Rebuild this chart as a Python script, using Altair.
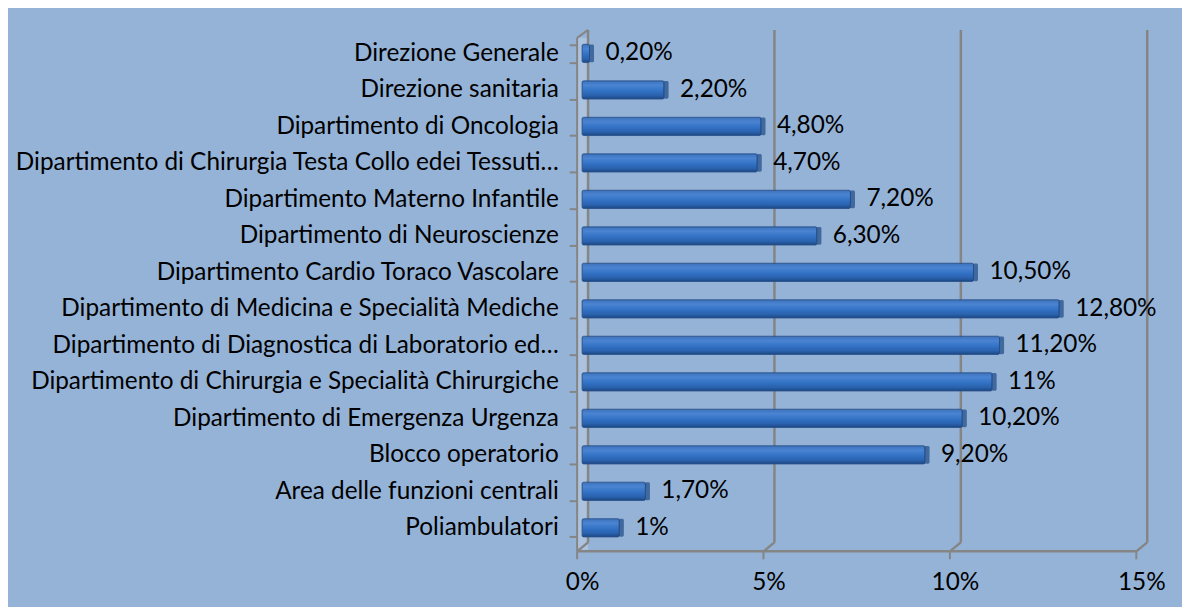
import altair as alt
import pandas as pd

# ---- data ----
categories = [
    "Direzione Generale",
    "Direzione sanitaria",
    "Dipartimento di Oncologia",
    "Dipartimento di Chirurgia Testa Collo edei Tessuti…",
    "Dipartimento Materno Infantile",
    "Dipartimento di Neuroscienze",
    "Dipartimento Cardio Toraco Vascolare",
    "Dipartimento di Medicina e Specialità Mediche",
    "Dipartimento di Diagnostica di Laboratorio ed…",
    "Dipartimento di Chirurgia e Specialità Chirurgiche",
    "Dipartimento di Emergenza Urgenza",
    "Blocco operatorio",
    "Area delle funzioni centrali",
    "Poliambulatori",
]
values = [0.2, 2.2, 4.8, 4.7, 7.2, 6.3, 10.5, 12.8, 11.2, 11, 10.2, 9.2, 1.7, 1]
value_labels = ["0,20%", "2,20%", "4,80%", "4,70%", "7,20%", "6,30%", "10,50%",
                "12,80%", "11,20%", "11%", "10,20%", "9,20%", "1,70%", "1%"]
tick_values = [0, 5, 10, 15]
x_domain = [0, 15]

df = pd.DataFrame({"cat": categories, "val": values, "lab": value_labels})
ticks_df = pd.DataFrame({"t": tick_values})
floor_df = pd.DataFrame({"a": [x_domain[0]], "b": [x_domain[1]]})

FONT = "Lato"
FS = 24.5
GRID = "#858585"
W, H = 563, 525

x_scale = alt.Scale(domain=x_domain, nice=False, zero=True)
y_scale = alt.Scale(paddingInner=0.5, paddingOuter=0.395)

x_axis = alt.Axis(values=tick_values, labelExpr="datum.value + '%'", domain=False,
                  ticks=False, tickSize=0, grid=False, labelPadding=19, labelFontSize=FS,
                  labelFont=FONT, labelColor="black", title=None, labelFlush=False)
y_axis = alt.Axis(domain=False, ticks=True, tickBand="extent", tickSize=8, tickWidth=2,
                  tickColor=GRID, offset=5, labelPadding=11, labelFontSize=FS,
                  labelFont=FONT, labelColor="black", labelLimit=800, title=None)


def X(field):
    return alt.X(field, scale=x_scale, axis=x_axis)


def Y():
    return alt.Y("cat:N", sort=categories, scale=y_scale, axis=y_axis)


gradient = alt.LinearGradient(
    gradient="linear",
    stops=[alt.GradientStop(color="#3E72BC", offset=0),
           alt.GradientStop(color="#4A84D2", offset=0.25),
           alt.GradientStop(color="#3271C4", offset=0.55),
           alt.GradientStop(color="#2A62AE", offset=0.8),
           alt.GradientStop(color="#1C4782", offset=1)],
    x1=0, x2=0, y1=0, y2=1,
)

wall_fill = alt.Chart(floor_df).mark_rect(color="white", opacity=0.22, xOffset=-5, x2Offset=6).encode(
    x=X("a:Q"), x2="a", y=alt.value(8), y2=alt.value(H))
grid = alt.Chart(ticks_df).mark_rule(color=GRID, strokeWidth=2.5, xOffset=6).encode(
    x=X("t:Q"), y=alt.value(0), y2=alt.value(H - 9))
diag = alt.Chart(ticks_df).mark_rule(color=GRID, strokeWidth=2.5, xOffset=6, x2Offset=-5).encode(
    x=X("t:Q"), x2="t", y=alt.value(H - 9), y2=alt.value(H))
front_ticks = alt.Chart(ticks_df).mark_rule(color=GRID, strokeWidth=2, xOffset=-5).encode(
    x=X("t:Q"), y=alt.value(H), y2=alt.value(H + 8))
floor = alt.Chart(floor_df).mark_rule(color=GRID, strokeWidth=2.5, xOffset=-5, x2Offset=-5).encode(
    x=X("a:Q"), x2="b", y=alt.value(H))
wall_front = alt.Chart(floor_df).mark_rule(color=GRID, strokeWidth=2, xOffset=-5).encode(
    x=X("a:Q"), y=alt.value(8), y2=alt.value(H))
wall_top = alt.Chart(floor_df).mark_rule(color=GRID, strokeWidth=2, xOffset=-5, x2Offset=6).encode(
    x=X("a:Q"), x2="a", y=alt.value(8), y2=alt.value(0))

base = alt.Chart(df)
bars = base.mark_bar(color=gradient, stroke="#27508A", strokeWidth=0.8, cornerRadius=1.5).encode(
    x=X("val:Q"), y=Y())
caps = base.mark_tick(color="#1E4A85", thickness=5, size=18, xOffset=2, cornerRadius=1.5).encode(
    x=X("val:Q"), y=Y())
text = base.mark_text(align="left", baseline="middle", dx=16, font=FONT, fontSize=FS,
                      color="black").encode(x=X("val:Q"), y=Y(), text="lab:N")

chart = alt.layer(wall_fill, grid, diag, floor, front_ticks, wall_front, wall_top,
                  bars, caps, text).properties(
    width=W, height=H,
    autosize=alt.AutoSizeParams(type="none"),
    padding={"left": 578, "top": 20, "right": 41, "bottom": 54},
    background="#95B3D7",
).configure_view(stroke=None)

chart.save("out.html", embed_options={"renderer": "svg", "actions": False})
